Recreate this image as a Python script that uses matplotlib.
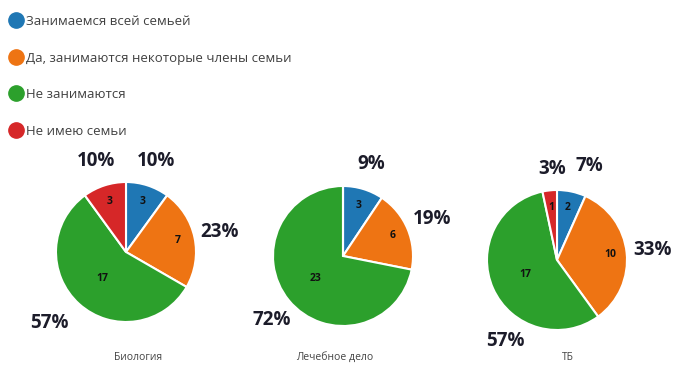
import numpy as np
import matplotlib.pyplot as plt
from matplotlib.lines import Line2D

plt.rcParams['font.family'] = ['Open Sans', 'DejaVu Sans']

categories = ['Занимаемся всей семьей', 'Да, занимаются некоторые члены семьи',
              'Не занимаются', 'Не имею семьи']
colors = ['#1f77b4', '#ee7413', '#2ca02c', '#d62728']

groups = ['Биология', 'Лечебное дело', 'ТБ']
biology = [3, 7, 17, 3]
medicine = [3, 6, 23, 0]
tb = [2, 10, 17, 1]
series = [biology, medicine, tb]

# pie layout in pixel units (x from left, y from top)
centers = [(126, 252), (343, 256), (557, 260)]
title_x = [138, 335, 568]
radius = 70
title_y = 357
# hand nudges (px, y up) for percent labels that would crowd each other
nudge = {(0, 2): (-12, 0), (2, 0): (12, 0), (2, 3): (5, -4), (2, 2): (36, -42),
         (1, 2): (3, -3)}

fig = plt.figure(figsize=(6.78, 3.75), dpi=100)
ax = fig.add_axes([0, 0, 1, 1])

for i, (name, vals, (cx, cy), tx) in enumerate(zip(groups, series, centers, title_x)):
    cy = 375 - cy
    vals = np.array(vals, dtype=float)
    total = vals.sum()
    wedges, _ = ax.pie(vals, colors=colors, startangle=90, counterclock=False,
                       center=(cx, cy), radius=radius,
                       wedgeprops=dict(edgecolor='white', linewidth=1.5))
    for j, (w, v) in enumerate(zip(wedges, vals)):
        if v == 0:
            continue
        mid = np.deg2rad((w.theta1 + w.theta2) / 2)
        frac = v / total
        d_in = 0.5 if frac > 0.5 else 0.76
        ax.text(cx + d_in * radius * np.cos(mid), cy + d_in * radius * np.sin(mid),
                f'{int(v)}', ha='center', va='center', fontsize=7.5,
                fontweight='bold', color='#111111')
        d_out = 1.37
        dx, dy = nudge.get((i, j), (0, 0))
        ax.text(cx + d_out * radius * np.cos(mid) + dx,
                cy + d_out * radius * np.sin(mid) + dy,
                f'{round(frac * 100)}%', ha='center', va='center', fontsize=13.5,
                fontweight='bold', color='#1c1c2a')
    ax.text(tx, 375 - title_y, name, ha='center', va='center',
            fontsize=7.5, color='#444444')

# pie() resets the view, so fix the pixel frame afterwards
ax.set_xlim(0, 678)
ax.set_ylim(0, 375)
ax.set_aspect('equal')
ax.axis('off')

handles = [Line2D([], [], marker='o', linestyle='none', markersize=11,
                  markerfacecolor=c, markeredgecolor=c) for c in colors]
fig.legend(handles, categories, loc='upper left', bbox_to_anchor=(-0.011, 0.995),
           frameon=False, fontsize=9.5, labelcolor='#404040',
           handletextpad=-0.1, labelspacing=1.78, borderaxespad=0.6,
           handlelength=1.6)

fig.savefig('out.png', dpi=100)
